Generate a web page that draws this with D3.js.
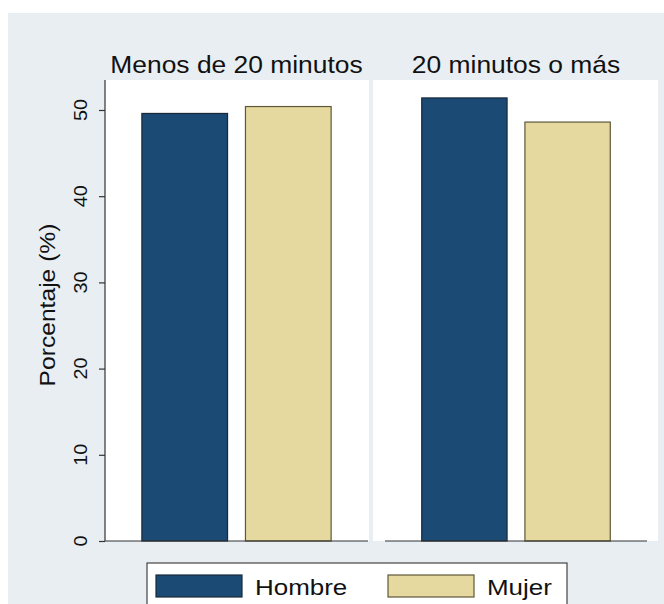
<!DOCTYPE html>
<html><head><meta charset="utf-8">
<script src="https://cdn.jsdelivr.net/npm/d3@7"></script>
<style>body{margin:0;background:#fff}svg{display:block}text{font-family:"Liberation Sans",Arial,sans-serif;fill:#111}</style>
</head><body>
<svg id="c" width="664" height="604"></svg>
<script>
const categories = ["Menos de 20 minutos", "20 minutos o más"];
const seriesNames = ["Hombre", "Mujer"];
const hombre = [49.6, 51.4];
const mujer = [50.4, 48.6];
const yTicks = [0, 10, 20, 30, 40, 50];
const axisTitle = "Porcentaje (%)";

const colors = {Hombre: "#1b4a74", Mujer: "#e5d9a0"};
const strokes = {Hombre: "#1a2a3a", Mujer: "#5e5838"};

const svg = d3.select("#c");
svg.append("rect").attr("x", 0).attr("y", 0).attr("width", 664).attr("height", 604).attr("fill", "#ffffff");
svg.append("rect").attr("x", 8).attr("y", 13).attr("width", 656).attr("height", 591).attr("fill", "#e8eef2");

const plotTop = 80, plotBottom = 541;
const y = d3.scaleLinear().domain([0, 50]).range([plotBottom, 110]);
const panels = [
  {cat: categories[0], x0: 105, x1: 368, bg0: 105, bg1: 369},
  {cat: categories[1], x0: 385, x1: 647, bg0: 373, bg1: 658}
];
const values = {Hombre: hombre, Mujer: mujer};

function stretchText(g, x, yy, txt, size, sx, anchor, rot) {
  return g.append("text")
    .attr("transform", `translate(${x},${yy})` + (rot ? ` rotate(${rot})` : "") + ` scale(${sx},1)`)
    .attr("font-size", size).attr("text-anchor", anchor).text(txt);
}

panels.forEach((p, i) => {
  svg.append("rect").attr("x", p.bg0).attr("y", plotTop).attr("width", p.bg1 - p.bg0).attr("height", plotBottom - plotTop).attr("fill", "#ffffff");
  const xb = d3.scaleBand().domain(seriesNames).range([p.x0, p.x1]).paddingInner(0.173).paddingOuter(0.356);
  seriesNames.forEach(s => {
    const v = values[s][i];
    svg.append("rect")
      .attr("x", xb(s)).attr("y", y(v))
      .attr("width", xb.bandwidth()).attr("height", y(0) - y(v))
      .attr("fill", colors[s]).attr("stroke", strokes[s]).attr("stroke-width", 1.2);
  });
  svg.append("line").attr("x1", p.x0).attr("x2", p.x1).attr("y1", plotBottom).attr("y2", plotBottom)
    .attr("stroke", "#333").attr("stroke-width", 1.2);
  stretchText(svg, (p.x0 + p.x1) / 2, 73, p.cat, 24, 1.1, "middle");
});

const axisG = svg.append("g").attr("transform", "translate(105,0)");
axisG.call(d3.axisLeft(y).tickValues(yTicks).tickSize(6).tickFormat(""));
axisG.select(".domain").attr("d", `M0,${plotTop}V${plotBottom}`).attr("stroke", "#333").attr("stroke-width", 1.2);
axisG.selectAll(".tick line").attr("stroke", "#333").attr("stroke-width", 1.2);
yTicks.forEach(t => {
  stretchText(svg, 87, y(t), String(t), 18, 1.1, "middle", -90);
});
stretchText(svg, 55, 305, axisTitle, 22, 1.12, "middle", -90);

const lg = svg.append("g");
lg.append("rect").attr("x", 147).attr("y", 563).attr("width", 420).attr("height", 60)
  .attr("fill", "#ffffff").attr("stroke", "#444").attr("stroke-width", 1.2);
const legX = d3.scaleOrdinal().domain(seriesNames).range([156, 388]);
seriesNames.forEach(s => {
  lg.append("rect").attr("x", legX(s)).attr("y", 575).attr("width", 86).attr("height", 22)
    .attr("fill", colors[s]).attr("stroke", strokes[s]).attr("stroke-width", 1.2);
  stretchText(lg, legX(s) + 99, 595, s, 22, 1.18, "start");
});
</script>
</body></html>
